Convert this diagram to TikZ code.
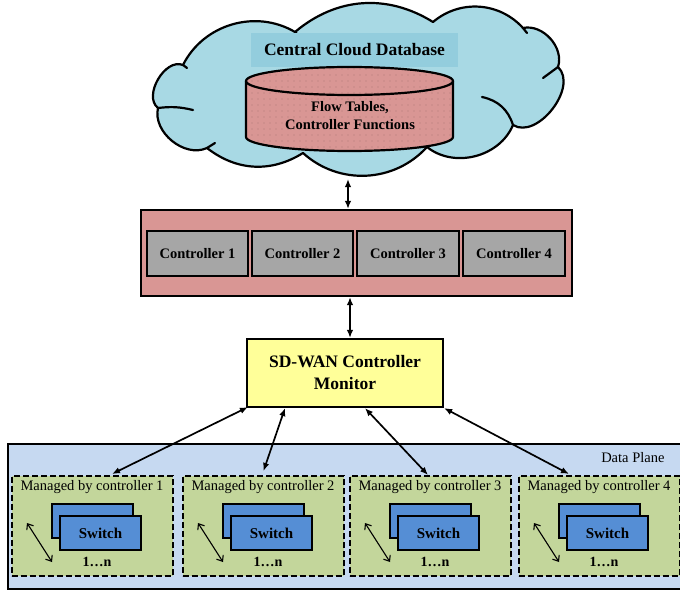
\documentclass[tikz,border=0pt]{standalone}
\usepackage{fontspec}
\setmainfont{Liberation Serif}
\usetikzlibrary{arrows.meta,patterns.meta,calc}
\definecolor{cloudblue}{HTML}{A8D9E4}
\definecolor{titleblue}{HTML}{93CDDD}
\definecolor{dbpink}{HTML}{D99694}
\definecolor{ctrlgray}{HTML}{A6A6A6}
\definecolor{monyellow}{HTML}{FFFF99}
\definecolor{planeblue}{HTML}{C6D9F1}
\definecolor{groupgreen}{HTML}{C3D69B}
\definecolor{switchblue}{HTML}{558ED5}
\begin{document}
\begin{tikzpicture}[x=1pt,y=-1pt,
  box/.style={draw=black, line width=2.2pt, rectangle, inner sep=0pt, align=center},
  ctrlbox/.style={box, fill=ctrlgray, minimum height=45pt, font=\fontsize{14.5}{17}\selectfont\bfseries},
  grp/.style={draw=black, line width=2pt, dash pattern=on 6pt off 3pt, fill=groupgreen, minimum width=161pt, minimum height=100pt, inner sep=0pt},
  sw/.style={draw=black, line width=2pt, fill=switchblue, minimum width=81pt, minimum height=34pt, inner sep=0pt, font=\fontsize{15}{17}\selectfont\bfseries},
  link/.style={line width=1.7pt, {Latex[length=8pt,width=6.5pt]}-{Latex[length=8pt,width=6.5pt]}},
  thinlink/.style={line width=1.1pt, {Straight Barb[length=5pt,width=8pt,line width=1.1pt]}-{Straight Barb[length=5pt,width=8pt,line width=1.1pt]}},
  mlabel/.style={font=\fontsize{14.5}{17}\selectfont},
  cloudline/.style={line width=2.2pt, line cap=round, line join=round},
]
\useasboundingbox (0,0) rectangle (680,591);
\clip (0,0) rectangle (680,591);
\fill[white] (0,0) rectangle (680,591);

% cloud
\draw[cloudline, fill=cloudblue]
  (158,108) to[bend right=64] (207,148)
  to[bend right=35] (303,153)
  to[bend right=45] (427,147)
  to[bend right=53] (513,125)
  to[bend right=84] (558,67)
  to[bend right=60] (523,28)
  to[bend right=44] (433,22)
  to[bend right=36] (295,32)
  to[bend right=47] (183,65)
  to[bend right=82] (158,108) -- cycle;
\draw[cloudline] (158,108) to[bend left=10] (193,110);
\draw[cloudline] (207,148) -- (215,143);
\draw[cloudline] (513,125) to[bend right=30] (482,97);
\draw[cloudline] (558,67) -- (543,78);
\draw[cloudline] (523,28) -- (527,33);
\draw[cloudline] (183,65) -- (187,68);
\draw[cloudline] (295,32) -- (297,34);

% title
\node[fill=titleblue, minimum width=207pt, minimum height=34pt, inner sep=0pt,
  font=\fontsize{17.5}{20}\selectfont\bfseries] (title) at (354.5,50) {Central Cloud Database};

% cylinder
\path[preaction={fill=dbpink}, pattern={Dots[distance=6pt,radius=0.45pt]}, pattern color=black!55!dbpink]
  (246,81) -- (246,137) arc[start angle=180, end angle=0, x radius=103.5, y radius=14]
  -- (453,81) arc[start angle=0, end angle=-180, x radius=103.5, y radius=14] -- cycle;
\draw[line width=2.2pt]
  (246,81) -- (246,137) arc[start angle=180, end angle=0, x radius=103.5, y radius=14]
  -- (453,81);
\draw[line width=2.2pt] (349.5,81) ellipse[x radius=103.5, y radius=14];
\node[align=center, font=\fontsize{14.5}{18}\selectfont\bfseries] (dbtext) at (350,116) {Flow Tables,\\Controller Functions};

% controllers
\node[box, fill=dbpink, minimum width=431pt, minimum height=86pt] (ctrl) at (356.5,253) {};
\node[ctrlbox, minimum width=101pt] (c1) at (197.5,253.5) {Controller 1};
\node[ctrlbox, minimum width=101pt] (c2) at (302.5,253.5) {Controller 2};
\node[ctrlbox, minimum width=102pt] (c3) at (408,253.5) {Controller 3};
\node[ctrlbox, minimum width=102pt] (c4) at (514,253.5) {Controller 4};

\coordinate (cloudbot) at (348,179);
\draw[link] (cloudbot) -- (cloudbot |- ctrl.north);

% monitor
\node[box, fill=monyellow, minimum width=196pt, minimum height=68pt,
  font=\fontsize{17.5}{22}\selectfont\bfseries] (mon) at (345,373) {SD-WAN Controller\\Monitor};
\draw[link] ($(ctrl.south)+(-6.5,0)$) -- ($(mon.north)+(5,0)$);

% data plane
\node[draw=black, line width=2pt, fill=planeblue, minimum width=682pt, minimum height=145pt, inner sep=0pt] (plane) at (349,516.5) {};
\node[mlabel, anchor=east] (dplabel) at (668,458) {Data Plane};

\foreach \L/\i in {11/1,182/2,349/3,518/4}{
  \node[grp] (g\i) at (\L+81,526) {};
  \node[mlabel] (m\i) at (\L+81,487) {Managed by controller \i};
  \node[sw] (swb\i) at (\L+81.5,520.5) {};
  \node[sw] (swf\i) at (\L+89.5,533) {Switch};
  \node[font=\fontsize{14}{16}\selectfont\bfseries] (n\i) at (\L+86,562) {1…n};
  \coordinate (a\i) at (\L+16,523);
  \coordinate (b\i) at (\L+41,562);
  \draw[thinlink] (a\i) -- (b\i);
}

\draw[link] ($(mon.south west)+(2,-1)$) -- ($(g1.north)+(20,-1)$);
\draw[link] ($(mon.south)+(-60,0)$) -- ($(g2.north)+(0.5,-4)$);
\draw[link] ($(mon.south)+(20,0)$) -- ($(g3.north)+(-2,0)$);
\draw[link] (mon.south east) -- ($(g4.north)+(-30,-1)$);
\end{tikzpicture}
\end{document}
